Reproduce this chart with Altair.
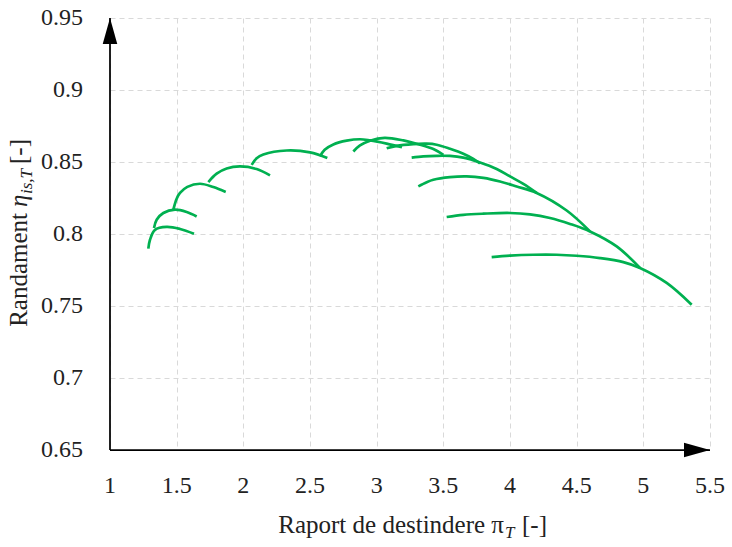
import altair as alt
import pandas as pd

# ---------------- data ----------------
x_ticks = [1, 1.5, 2, 2.5, 3, 3.5, 4, 4.5, 5, 5.5]
y_ticks = [0.65, 0.7, 0.75, 0.8, 0.85, 0.9, 0.95]

pi_c1 = [1.2875, 1.30, 1.3375, 1.425, 1.525, 1.63]
eta_c1 = [0.7898, 0.796, 0.8029, 0.8049, 0.8035, 0.8002]

pi_c2 = [1.33, 1.35, 1.40, 1.4875, 1.575, 1.65]
eta_c2 = [0.8042, 0.8099, 0.8146, 0.8169, 0.8153, 0.8122]

pi_c3 = [1.475, 1.50, 1.525, 1.58, 1.675, 1.775, 1.868]
eta_c3 = [0.8169, 0.8245, 0.8285, 0.8327, 0.8349, 0.8326, 0.8292]

pi_c4 = [1.7375, 1.80, 1.875, 1.975, 2.10, 2.20]
eta_c4 = [0.8361, 0.8419, 0.8455, 0.8469, 0.8451, 0.8407]

pi_c5 = [2.0625, 2.10, 2.15, 2.325, 2.50, 2.63]
eta_c5 = [0.8480, 0.8526, 0.8552, 0.8580, 0.8567, 0.8528]

pi_c6 = [2.575, 2.61, 2.675, 2.775, 2.875, 2.95, 3.075, 3.19]
eta_c6 = [0.8539, 0.8585, 0.8622, 0.8648, 0.8658, 0.8650, 0.8628, 0.8603]

pi_c7 = [2.825, 2.875, 2.95, 3.06, 3.2, 3.325, 3.425, 3.5]
eta_c7 = [0.8573, 0.8615, 0.8648, 0.8668, 0.8650, 0.8620, 0.8590, 0.8549]

pi_c8 = [3.075, 3.15, 3.275, 3.375, 3.45, 3.55, 3.65, 3.725, 3.775]
eta_c8 = [0.8595, 0.8612, 0.8624, 0.8627, 0.8620, 0.8592, 0.8558, 0.8522, 0.8490]

pi_c9 = [3.2625, 3.35, 3.45, 3.55, 3.65, 3.775, 3.9, 4.0, 4.1, 4.2]
eta_c9 = [0.8530, 0.8539, 0.8543, 0.8542, 0.8530, 0.8497, 0.8452, 0.8400, 0.8348, 0.8285]

pi_c10 = [3.3125, 3.375, 3.425, 3.55, 3.675, 3.8, 3.925, 4.05, 4.2, 4.425, 4.6]
eta_c10 = [0.8331, 0.8360, 0.8377, 0.8395, 0.8400, 0.8390, 0.8365, 0.8330, 0.8285, 0.8163, 0.8018]

pi_c11 = [3.525, 3.65, 3.8, 4.0, 4.15, 4.3, 4.45, 4.6, 4.8, 4.975]
eta_c11 = [0.8118, 0.8133, 0.8141, 0.8146, 0.8136, 0.8111, 0.8070, 0.8018, 0.7914, 0.7764]

pi_c12 = [3.8625, 4.0, 4.175, 4.35, 4.5, 4.675, 4.85, 4.975, 5.175, 5.3625]
eta_c12 = [0.7840, 0.7850, 0.7856, 0.7856, 0.7849, 0.7833, 0.7805, 0.7764, 0.7660, 0.7509]

curves = [
    (pi_c1, eta_c1), (pi_c2, eta_c2), (pi_c3, eta_c3), (pi_c4, eta_c4),
    (pi_c5, eta_c5), (pi_c6, eta_c6), (pi_c7, eta_c7), (pi_c8, eta_c8),
    (pi_c9, eta_c9), (pi_c10, eta_c10), (pi_c11, eta_c11), (pi_c12, eta_c12),
]

rows = []
for k, (xs, ys) in enumerate(curves, start=1):
    for i, (a, b) in enumerate(zip(xs, ys)):
        rows.append({"curve": k, "i": i, "pi": a, "eta": b})
df = pd.DataFrame(rows)

axes_df = pd.DataFrame({
    "x0": [x_ticks[0]], "x1": [x_ticks[-1]],
    "y0": [y_ticks[0]], "y1": [y_ticks[-1]],
})
xlab_df = pd.DataFrame({"v": x_ticks, "s": [f"{v:g}" for v in x_ticks]})
ylab_df = pd.DataFrame({"v": y_ticks, "s": [f"{v:g}" for v in y_ticks]})

# ---------------- style ----------------
FONT = "Liberation Serif"
GREEN = "#00b050"
TXT = "#222222"
W, H = 600, 432
TS = 25  # title font size

xscale = alt.Scale(domain=[x_ticks[0], x_ticks[-1]], nice=False, zero=False)
yscale = alt.Scale(domain=[y_ticks[0], y_ticks[-1]], nice=False, zero=False)

common_axis = dict(
    title=None, domain=False, ticks=False, grid=True, labels=False,
    gridDash=[5, 4], gridColor="#d9d9d9", gridWidth=1,
)
x_axis = alt.Axis(values=x_ticks, **common_axis)
y_axis = alt.Axis(values=y_ticks, **common_axis)

lines = alt.Chart(df).mark_line(
    color=GREEN, strokeWidth=2.7, interpolate="catmull-rom"
).encode(
    x=alt.X("pi:Q", scale=xscale, axis=x_axis),
    y=alt.Y("eta:Q", scale=yscale, axis=y_axis),
    detail="curve:N",
    order="i:Q",
)

axis_base = alt.Chart(axes_df)
x_axis_line = axis_base.mark_rule(color="black", strokeWidth=1.75).encode(
    x=alt.X("x0:Q", scale=xscale, axis=x_axis),
    x2="x1:Q",
    y=alt.Y("y0:Q", scale=yscale, axis=y_axis),
)
y_axis_line = axis_base.mark_rule(color="black", strokeWidth=1.75).encode(
    x=alt.X("x0:Q", scale=xscale, axis=x_axis),
    y=alt.Y("y0:Q", scale=yscale, axis=y_axis),
    y2="y1:Q",
)
arrow_right = axis_base.mark_point(
    shape="M 0 0 L -2 -0.56 L -2 0.56 Z", size=676, filled=True,
    color="black", opacity=1, strokeWidth=0,
).encode(
    x=alt.X("x1:Q", scale=xscale, axis=x_axis),
    y=alt.Y("y0:Q", scale=yscale, axis=y_axis),
)
arrow_up = axis_base.mark_point(
    shape="M 0 0 L -0.56 2 L 0.56 2 Z", size=676, filled=True,
    color="black", opacity=1, strokeWidth=0,
).encode(
    x=alt.X("x0:Q", scale=xscale, axis=x_axis),
    y=alt.Y("y1:Q", scale=yscale, axis=y_axis),
)

# tick labels (serif), positioned through the scales
x_labels = alt.Chart(xlab_df).mark_text(
    font=FONT, fontSize=24, color=TXT, align="center", baseline="alphabetic"
).encode(
    x=alt.X("v:Q", scale=xscale, axis=x_axis),
    y=alt.value(H + 43),
    text="s:N",
)
y_labels = alt.Chart(ylab_df).mark_text(
    font=FONT, fontSize=24, color=TXT, align="right", baseline="middle"
).encode(
    x=alt.value(-27),
    y=alt.Y("v:Q", scale=yscale, axis=y_axis),
    text="s:N",
)


def txt(s, x, y, size=TS, italic=False, align="left", angle=0, dx=0, dy=0):
    kw = dict(font=FONT, fontSize=size, color=TXT, align=align,
              baseline="alphabetic", dx=dx, dy=dy)
    if italic:
        kw["fontStyle"] = "italic"
    if angle:
        kw["angle"] = angle
    return alt.Chart(pd.DataFrame({"t": [s]})).mark_text(**kw).encode(
        text="t:N", x=alt.value(x), y=alt.value(y)
    )


# x title: "Raport de destindere π_T [-]"
JX, JY = 394, 515
xt_main = txt("Raport de destindere π", JX, JY, align="right")
xt_sub = txt("T", JX + 1, JY + 5, size=17, italic=True)
xt_end = txt("[-]", JX + 18, JY)

# y title: "Randament η_is,T [-]" (rotated)
YX, YY = -83, 189
yt_main = txt("Randament", YX, YY, align="right", angle=270, dx=-6)
yt_eta = txt("η", YX, YY, italic=True, angle=270)
yt_sub = txt("is,T", YX, YY, size=17, italic=True, angle=270, dx=13, dy=5)
yt_end = txt("[-]", YX, YY, angle=270, dx=43)

chart = alt.layer(
    lines, x_axis_line, y_axis_line, arrow_right, arrow_up,
    x_labels, y_labels,
    xt_main, xt_sub, xt_end, yt_main, yt_eta, yt_sub, yt_end,
).properties(
    width=W, height=H,
    autosize=alt.AutoSizeParams(type="none"),
    padding={"left": 110, "top": 18, "right": 22, "bottom": 97},
    background="white",
).configure_view(strokeWidth=0)

chart.save("out.html", embed_options={"renderer": "svg", "actions": False})
